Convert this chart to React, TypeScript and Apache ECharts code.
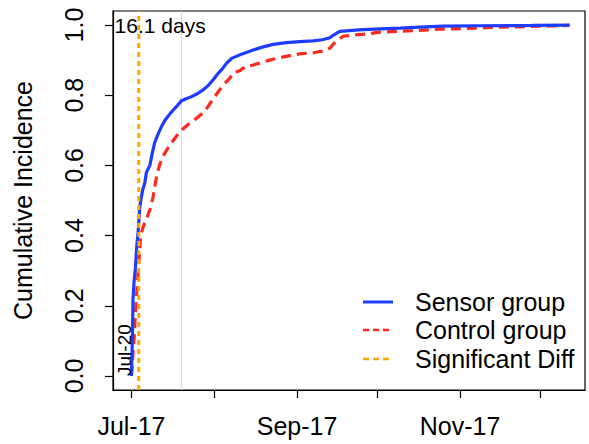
import React, { useEffect, useRef } from "react";
import * as echarts from "echarts";

// ---- data (days since Jul-17) ----
const seriesNames = ["Sensor group", "Control group", "Significant Diff"];

const sensorDays = [0, 0.1, 0.4, 0.6, 1.0, 1.5, 2.0, 2.5, 3.1, 3.5, 4.2, 5.0, 5.6, 6.9, 7.8, 8.7, 10.0, 11.2, 12.5, 13.7, 15.3, 16.9, 18.7, 20.5, 22.5, 24.8, 26.8, 28.8, 30.6, 32.2, 33.7, 35.5, 37.5, 40.6, 43.0, 45.6, 49, 53.1, 58, 63, 68, 71.5, 74.3, 76, 78, 85, 93, 100.5, 108, 116.7, 130, 150, 164];
const sensorVals = [0, 0.03, 0.12, 0.22, 0.27, 0.31, 0.37, 0.41, 0.48, 0.5, 0.53, 0.55, 0.58, 0.6, 0.635, 0.665, 0.69, 0.71, 0.728, 0.74, 0.755, 0.768, 0.784, 0.79, 0.796, 0.805, 0.815, 0.828, 0.844, 0.86, 0.872, 0.89, 0.905, 0.915, 0.922, 0.929, 0.937, 0.945, 0.95, 0.953, 0.955, 0.958, 0.964, 0.973, 0.982, 0.986, 0.989, 0.991, 0.994, 0.997, 0.998, 0.999, 1.0];

const controlDays = [0, 0.3, 0.7, 1.0, 1.3, 1.6, 2.0, 2.5, 3.0, 3.5, 4.2, 5.0, 6.0, 7.2, 8.1, 9.4, 10.5, 11.8, 13.3, 15, 16.8, 18.7, 21.0, 23.7, 25.6, 27.5, 29.3, 31.2, 33, 35, 36.8, 38, 40.6, 42.4, 45.6, 48.5, 51.8, 55.5, 59.3, 63, 68, 72, 74.3, 75.5, 76.8, 79.3, 84, 89.3, 91.8, 96.8, 105, 115.5, 125, 138, 150, 164];
const controlVals = [0, 0.03, 0.08, 0.105, 0.15, 0.19, 0.24, 0.295, 0.35, 0.4, 0.42, 0.437, 0.455, 0.48, 0.51, 0.569, 0.6, 0.626, 0.645, 0.664, 0.683, 0.7, 0.715, 0.73, 0.742, 0.754, 0.775, 0.796, 0.815, 0.834, 0.848, 0.863, 0.87, 0.88, 0.886, 0.893, 0.9, 0.907, 0.913, 0.918, 0.921, 0.926, 0.934, 0.945, 0.956, 0.968, 0.972, 0.975, 0.979, 0.981, 0.984, 0.988, 0.99, 0.994, 0.996, 0.999];

const sigDiffDay = 2.75;
const refLineDay = 18.7;
const sigDiffText = "16.1 days";
const startDateText = "Jul-20";

const xTickDays = [0, 31, 62, 92, 123, 153];
const xLabelDays = [0, 62, 123];
const xLabelTexts = ["Jul-17", "Sep-17", "Nov-17"];
const yTicks = [0, 0.2, 0.4, 0.6, 0.8, 1.0];

const X_MIN = -6.9;
const X_MAX = 169.8;
const Y_MIN = -0.04;
const Y_MAX = 1.04;

const FONT = "'Liberation Sans', Arial, Helvetica, sans-serif";

const colors = {
  sensor: "#1E3CFF",
  control: "#FF2A1E",
  sig: "#FFA500",
  ref: "#C4DCE8",
};

export default function App() {
  const ref = useRef<HTMLDivElement>(null);

  useEffect(() => {
    document.body.style.margin = "0";
    const chart = echarts.init(ref.current!, null, { renderer: "svg" });
    const zip = (a: number[], b: number[]) => a.map((d, i) => [d, b[i]]);

    chart.setOption({
      animation: false,
      backgroundColor: "#fff",
      textStyle: { fontFamily: FONT },
      grid: {
        left: 113,
        top: 11,
        width: 472,
        height: 379,
        show: true,
        borderColor: "#000",
        borderWidth: 1.2,
        backgroundColor: "transparent",
      },
      xAxis: {
        type: "value",
        min: X_MIN,
        max: X_MAX,
        axisLine: { show: true, onZero: false, lineStyle: { color: "#000", width: 1.2 } },
        axisTick: { show: true, customValues: xTickDays, length: 8, lineStyle: { color: "#000", width: 1.2 } },
        axisLabel: {
          customValues: xLabelDays,
          formatter: (v: number) => {
            const i = xLabelDays.indexOf(v);
            return i >= 0 ? xLabelTexts[i] : "";
          },
          fontSize: 25,
          color: "#000",
          fontFamily: FONT,
          margin: 23,
        },
        splitLine: { show: false },
      },
      yAxis: {
        type: "value",
        min: Y_MIN,
        max: Y_MAX,
        name: "Cumulative Incidence",
        nameLocation: "middle",
        nameRotate: 90,
        nameGap: 78,
        nameTextStyle: { fontSize: 25, color: "#000", fontFamily: FONT },
        axisLine: { show: true, onZero: false, lineStyle: { color: "#000", width: 1.2 } },
        axisTick: { show: true, customValues: yTicks, length: 8, lineStyle: { color: "#000", width: 1.2 } },
        axisLabel: {
          customValues: yTicks,
          rotate: 90,
          formatter: (v: number) => v.toFixed(1),
          fontSize: 25,
          color: "#000",
          fontFamily: FONT,
          margin: 27,
        },
        splitLine: { show: false },
      },
      series: [
        {
          name: "ref",
          type: "line",
          data: [[refLineDay, Y_MIN], [refLineDay, Y_MAX]],
          symbol: "none",
          silent: true,
          lineStyle: { color: colors.ref, width: 1 },
          z: 1,
        },
        {
          name: seriesNames[0],
          type: "line",
          data: zip(sensorDays, sensorVals),
          symbol: "none",
          lineStyle: { color: colors.sensor, width: 3.2 },
          z: 3,
        },
        {
          name: seriesNames[1],
          type: "line",
          data: zip(controlDays, controlVals),
          symbol: "none",
          lineStyle: { color: colors.control, width: 3.2, type: [10, 6] },
          z: 2,
        },
        {
          name: seriesNames[2],
          type: "line",
          data: [[sigDiffDay, Y_MIN], [sigDiffDay, Y_MAX]],
          symbol: "none",
          lineStyle: { color: colors.sig, width: 3, type: [5, 4] },
          z: 4,
        },
      ],
    });

    const p1 = chart.convertToPixel({ gridIndex: 0 }, [-6.3, 1.0]) as number[];
    const p2 = chart.convertToPixel({ gridIndex: 0 }, [-2.5, 0]) as number[];

    const legendColors = [colors.sensor, colors.control, colors.sig];
    const legendDash: any[] = ["solid", [6, 4], [6, 4]];
    const legendY = [302, 330, 359];
    const legendItems: any[] = [];
    seriesNames.forEach((n, i) => {
      legendItems.push({
        type: "line",
        shape: { x1: 363, y1: legendY[i], x2: 393, y2: legendY[i] },
        style: { stroke: legendColors[i], lineWidth: i === 0 ? 3 : 2.5, lineDash: legendDash[i] === "solid" ? null : legendDash[i] },
      });
      legendItems.push({
        type: "text",
        x: 415,
        y: legendY[i],
        style: { text: n, fontSize: 25, fontFamily: FONT, fill: "#000", align: "left", verticalAlign: "middle" },
      });
    });

    chart.setOption({
      graphic: [
        {
          type: "text",
          x: p1[0],
          y: p1[1],
          z: 10,
          style: { text: sigDiffText, fontSize: 21, fontFamily: FONT, fill: "#000", align: "left", verticalAlign: "middle" },
        },
        {
          type: "text",
          x: p2[0],
          y: p2[1],
          rotation: Math.PI / 2,
          z: 10,
          style: { text: startDateText, fontSize: 19, fontFamily: FONT, fill: "#000", align: "left", verticalAlign: "middle" },
        },
        ...legendItems,
      ],
    });

    return () => chart.dispose();
  }, []);

  return <div ref={ref} style={{ position: "absolute", left: 0, top: 0, width: 589, height: 444 }} />;
}
